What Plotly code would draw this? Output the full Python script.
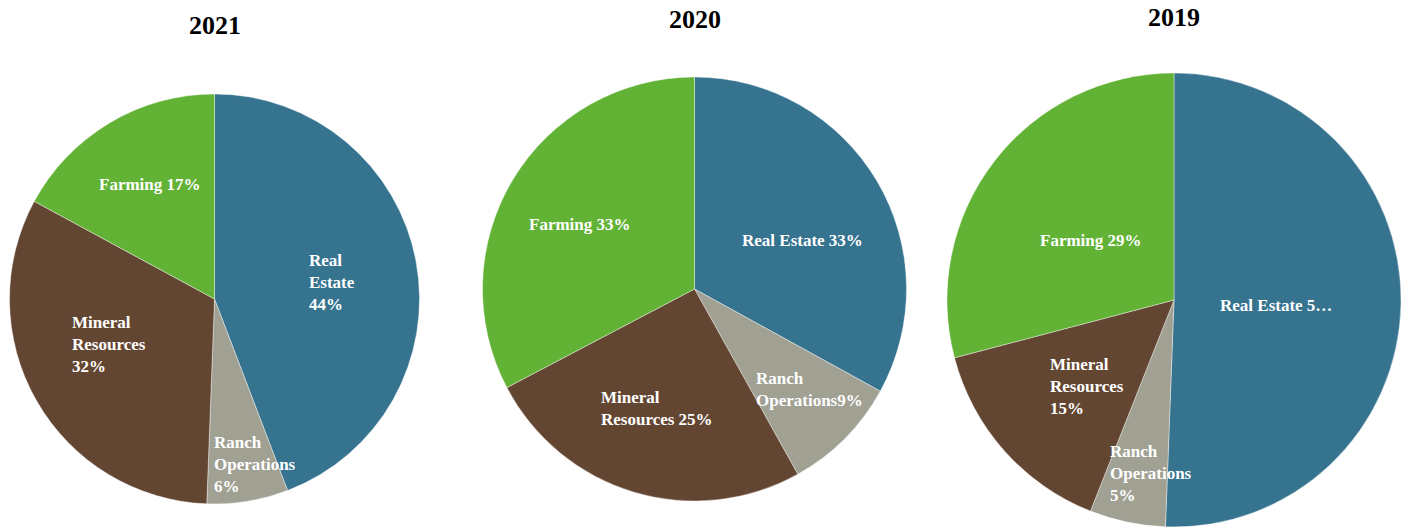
import math
import plotly.graph_objects as go

# ---- data -------------------------------------------------------------
YEARS = ["2021", "2020", "2019"]
SEGMENTS = ["Real Estate", "Ranch Operations", "Mineral Resources", "Farming"]
SHARE_2021 = [44.2, 6.4, 32.3, 17.1]
SHARE_2020 = [33.0, 8.9, 25.4, 32.7]
SHARE_2019 = [50.6, 5.4, 14.9, 29.1]
SHARES = [SHARE_2021, SHARE_2020, SHARE_2019]

# label wording per year ({p} is filled with the computed share)
LABELS_2021 = ["Real<br>Estate<br>{p}", "Ranch<br>Operations<br>{p}",
               "Mineral<br>Resources<br>{p}", "Farming {p}"]
LABELS_2020 = ["Real Estate {p}", "Ranch<br>Operations{p}",
               "Mineral<br>Resources {p}", "Farming {p}"]
LABELS_2019 = ["Real Estate {p}", "Ranch<br>Operations<br>{p}",
               "Mineral<br>Resources<br>{p}", "Farming {p}"]
LABELS = [LABELS_2021, LABELS_2020, LABELS_2019]
# longest label (in characters) that fits before it gets an ellipsis
MAX_CHARS_2019 = [13, None, None, None]
MAX_CHARS = [[None] * 4, [None] * 4, MAX_CHARS_2019]

# ---- styling / layout -------------------------------------------------
COLORS = ["#35738F", "#A0A093", "#634632", "#62B236"]
W, H = 1409, 528
FONT = "Liberation Serif"

# pie geometry in pixels: centre x, centre y, radius
PIE_BOX = [(214.5, 299.0, 205.0), (694.5, 289.0, 212.0), (1174.0, 300.0, 227.0)]
TITLE_Y = [26, 19, 17]

# label placement: fraction of radius, nudge (deg) from the slice mid-angle
LABEL_POS = [
    [(0.58, 2.4), (0.83, -4.4), (0.56, 6.2), (0.64, 1.3)],
    [(0.56, 6.4), (0.72, -3.6), (0.59, 1.1), (0.62, -1.9)],
    [(0.45, 1.8), (0.77, -4.2), (0.54, -3.4), (0.45, -1.7)],
]


def clip(text, n):
    if n is None or len(text) <= n:
        return text
    return text[:n] + "\u2026"


fig = go.Figure()
annotations = []

for k, year in enumerate(YEARS):
    cx, cy, r = PIE_BOX[k]
    values = SHARES[k]
    fig.add_trace(go.Pie(
        labels=SEGMENTS,
        values=values,
        name=year,
        sort=False,
        direction="clockwise",
        rotation=0,
        textinfo="none",
        marker=dict(colors=COLORS, line=dict(color="white", width=0.4)),
        domain=dict(x=[(cx - r) / W, (cx + r) / W],
                    y=[1 - (cy + r) / H, 1 - (cy - r) / H]),
        showlegend=False,
    ))

    annotations.append(dict(
        x=cx / W, y=1 - TITLE_Y[k] / H, xref="paper", yref="paper",
        text=year, showarrow=False, xanchor="center", yanchor="middle",
        font=dict(family=FONT, size=26, color="black", weight="bold"),
    ))

    total = sum(values)
    start = 0.0
    for i, v in enumerate(values):
        frac = v / total
        mid = (start + frac / 2) * 360.0
        start += frac
        f, nudge = LABEL_POS[k][i]
        ang = math.radians(mid + nudge)
        px = cx + f * r * math.sin(ang)
        py = cy - f * r * math.cos(ang)
        pct = f"{round(frac * 100)}%"
        text = LABELS[k][i].replace("{p}", pct)
        text = clip(text, MAX_CHARS[k][i])
        annotations.append(dict(
            x=px / W, y=1 - py / H, xref="paper", yref="paper",
            text=text, showarrow=False, xanchor="center", yanchor="middle",
            align="left",
            font=dict(family=FONT, size=17, color="white", weight="bold"),
        ))

fig.update_layout(
    width=W, height=H,
    margin=dict(l=0, r=0, t=0, b=0),
    paper_bgcolor="white",
    plot_bgcolor="white",
    annotations=annotations,
)

fig.write_html("out.html")
